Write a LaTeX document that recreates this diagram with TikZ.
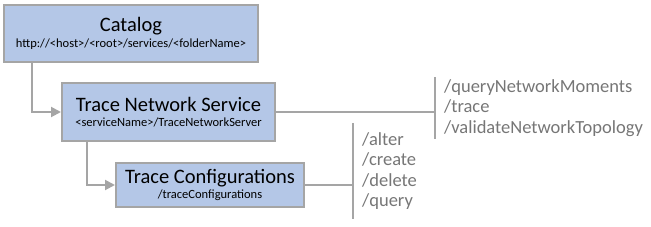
\documentclass[tikz,border=0pt]{standalone}
\usepackage{fontspec}
\setmainfont{Carlito}
\usepackage{xcolor}
\usetikzlibrary{arrows.meta,positioning,calc}
\definecolor{boxblue}{RGB}{180, 199, 231}
\definecolor{linegray}{RGB}{165, 165, 165}
\definecolor{textgray}{RGB}{118, 118, 118}

\begin{document}
\begin{tikzpicture}[
  x=1pt, y=-1pt,
  svcbox/.style={rectangle, draw=linegray, fill=boxblue, line width=2pt, align=center, inner sep=0pt},
  oplist/.style={anchor=west, align=left, text=textgray, inner xsep=9pt, inner ysep=0pt, font=\fontsize{18.5}{20.5}\selectfont},
  link/.style={line width=2pt, color=linegray},
  arrow/.style={-{Triangle[length=10pt,width=10pt]}, line width=2pt, color=linegray}
]
\useasboundingbox (0,0) rectangle (651,226);
\node[svcbox, minimum width=254pt, minimum height=57pt] (cat) at (131,33.5) {{\fontsize{20.5}{20}\selectfont Catalog}\\[2.5pt]{\fontsize{12.5}{13}\selectfont http://<host>/<root>/services/<folderName>}};
\node[svcbox, minimum width=213pt, minimum height=58pt] (tns) at (168.5,112) {{\fontsize{20.5}{20}\selectfont Trace Network Service}\\[2.5pt]{\fontsize{12.5}{13}\selectfont <serviceName>/TraceNetworkServer}};
\node[svcbox, minimum width=188pt, minimum height=44pt] (tc) at (210,185) {{\fontsize{20.5}{20}\selectfont Trace Configurations}\\[2.5pt]{\fontsize{12.5}{13}\selectfont /traceConfigurations}};

\node[oplist, minimum height=62pt] (tnsops) at (435,108) {/queryNetworkMoments\\/trace\\/validateNetworkTopology};
\node[oplist, minimum height=96pt] (tcops) at (353,171) {/alter\\/create\\/delete\\/query};

\draw[arrow] ([xshift=29pt]cat.south west) |- (tns.west);
\draw[arrow] ([xshift=26pt]tns.south west) |- (tc.west);
\draw[link] (tns.east) -- (tns.east -| tnsops.west);
\draw[link] (tnsops.north west) -- (tnsops.south west);
\draw[link] (tc.east) -- (tc.east -| tcops.west);
\draw[link] (tcops.north west) -- (tcops.south west);
\end{tikzpicture}
\end{document}
